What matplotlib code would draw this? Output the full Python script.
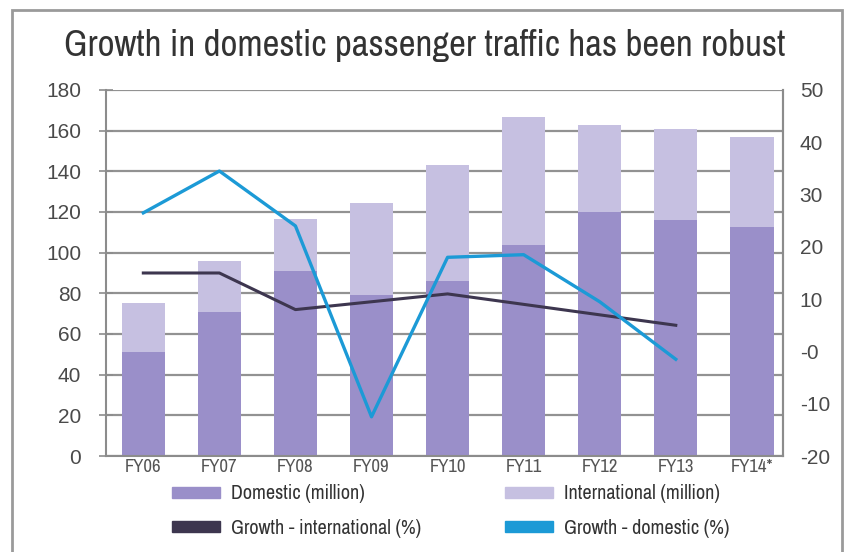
import numpy as np
import matplotlib.pyplot as plt
from matplotlib.patches import Patch, Rectangle

years = ['FY06', 'FY07', 'FY08', 'FY09', 'FY10', 'FY11', 'FY12', 'FY13', 'FY14*']
domestic = [51, 71, 91, 79, 86, 104, 120, 116, 112.5]
international = [24, 25, 25.5, 45.5, 57, 62.5, 43, 45, 44.5]
growth_intl = [15, 15, 8, 9.5, 11, 9, 7, 5]
growth_dom = [26.5, 34.5, 24, -12.5, 18, 18.5, 9.5, -1.5]
right_ticks = [-20, -10, 0, 10, 20, 30, 40, 50]
right_labels = ['-20', '-10', '-0', '10', '20', '30', '40', '50']

narrow = ['Archivo Narrow', 'DejaVu Sans']
plain = ['Liberation Sans', 'DejaVu Sans']

c_dom = '#9a8fc9'
c_int = '#c6c0e1'
c_gi = '#3d364f'
c_gd = '#1c9ad6'
c_axis = '#8c8c8c'

fig = plt.figure(figsize=(8.49, 5.52), dpi=100)
ax = fig.add_axes([0.1249, 0.1739, 0.7974, 0.6631])

x = np.arange(len(years))
ax.bar(x, domestic, width=0.57, color=c_dom, zorder=2)
ax.bar(x, international, width=0.57, bottom=domestic, color=c_int, zorder=2)

ax.set_ylim(0, 180)
ax.set_yticks(range(0, 181, 20))
ax.set_xlim(-0.49, 8.41)
ax.set_xticks(x)
ax.set_xticklabels(years, family=narrow, fontsize=13.5, color='#555555')
ax.tick_params(axis='x', length=0, pad=2)
ax.tick_params(axis='y', direction='inout', length=10, width=1.2, color=c_axis,
               right=True, labelsize=15, labelcolor='#4a4a4a', pad=13)
for lab in ax.get_yticklabels():
    lab.set_family(plain)
ax.grid(axis='y', color='#929292', linewidth=1.6, zorder=0)
ax.set_axisbelow(True)
ax.spines['top'].set_visible(False)
for side in ['left', 'right', 'bottom']:
    ax.spines[side].set_color(c_axis)
    ax.spines[side].set_linewidth(1.5)

# growth lines on the secondary axis
ax2 = ax.twinx()
ax2.plot(x[:len(growth_intl)], growth_intl, color=c_gi, linewidth=2.2, zorder=3)
ax2.plot(x[:len(growth_dom)], growth_dom, color=c_gd, linewidth=2.4, zorder=4)
ax2.set_ylim(-20, 50)
ax2.set_yticks(right_ticks)
ax2.set_yticklabels(right_labels, family=plain, fontsize=15, color='#4a4a4a')
ax2.tick_params(axis='y', length=0, pad=12)
for side in ['top', 'left', 'bottom']:
    ax2.spines[side].set_visible(False)
ax2.spines['right'].set_color(c_axis)
ax2.spines['right'].set_linewidth(1.5)

fig.text(0.5, 0.917, 'Growth in domestic passenger traffic has been robust',
         ha='center', va='center', family=narrow, fontsize=26.5, color='#333333')

leg_kw = dict(loc='center left', frameon=False, borderpad=0, borderaxespad=0,
              prop={'family': narrow, 'size': 14.5}, handlelength=2.4,
              handleheight=0.5, handletextpad=0.55, labelspacing=0.75,
              labelcolor='#333333')
leg1 = fig.legend([Patch(color=c_dom), Patch(color=c_gi)],
                  ['Domestic (million)', 'Growth - international (%)'],
                  bbox_to_anchor=(172 / 849, 0.0743), **leg_kw)
leg2 = fig.legend([Patch(color=c_int), Patch(color=c_gd)],
                  ['International (million)', 'Growth - domestic (%)'],
                  bbox_to_anchor=(505 / 849, 0.0743), **leg_kw)

fig.patches.append(Rectangle((12 / 849, -0.05), 830 / 849, 1.05 - 10 / 552,
                             transform=fig.transFigure, fill=False,
                             edgecolor='#9a9a9a', linewidth=2))

fig.savefig('out.png', dpi=100)
